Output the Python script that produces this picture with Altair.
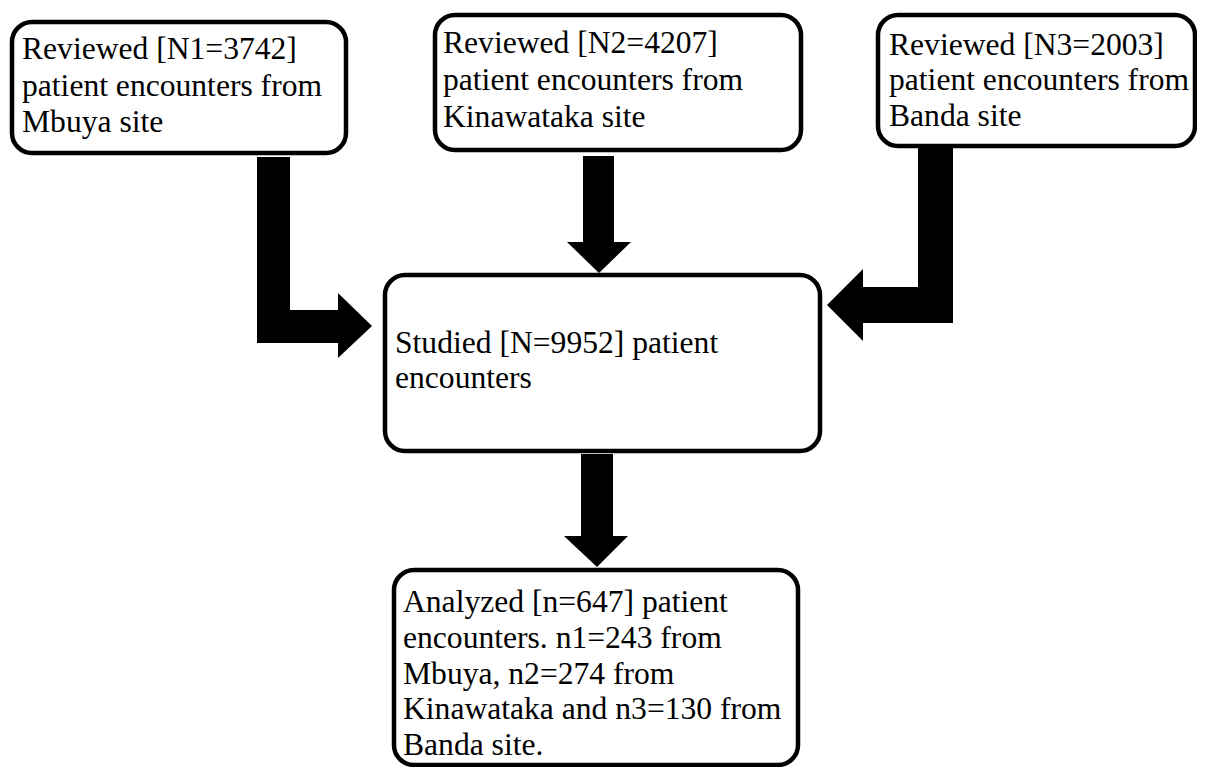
import altair as alt
import pandas as pd

# ---- content (text of each flowchart box, one list per line) ----
box_names = ["Mbuya", "Kinawataka", "Banda", "Studied", "Analyzed"]
box_lines = [
    ["Reviewed [N1=3742]", "patient encounters from", "Mbuya site"],
    ["Reviewed [N2=4207]", "patient encounters from", "Kinawataka site"],
    ["Reviewed [N3=2003]", "patient encounters from", "Banda site"],
    ["Studied [N=9952] patient", "encounters"],
    ["Analyzed [n=647] patient", "encounters. n1=243 from", "Mbuya, n2=274 from",
     "Kinawataka and n3=130 from", "Banda site."],
]

# ---- layout (pixel positions on the page) ----
box_x0 = [12, 435, 878, 385, 394]
box_x1 = [346, 801, 1195, 820, 798]
box_y0 = [22, 15, 15, 275, 570]
box_y1 = [153, 150, 146, 451, 765]
text_x = [22, 443, 889, 395, 403]
text_y0 = [59.3, 53.3, 54.5, 353.3, 612]
line_gap = [36.2, 37.0, 35.8, 35.0, 35.8]

# arrow shafts: x0, x1, y0, y1
shaft_x0 = [257, 257, 583, 918, 863, 581]
shaft_x1 = [290, 338, 614, 953, 953, 613]
shaft_y0 = [157, 310, 156, 148, 287, 454]
shaft_y1 = [343, 343, 243, 323, 323, 537]

# down arrow heads: base y, left x, right x, tip x, tip y
down_base_y = [242, 536]
down_left = [567, 564]
down_right = [631, 628]
down_tip_x = [599, 597]
down_tip_y = [273, 567]

# sideways arrow heads: base x, top y, bottom y, tip x, tip y
side_base_x = [338, 863]
side_top = [293, 269]
side_bot = [358, 341]
side_tip_x = [372, 827]
side_tip_y = [326, 305]

W, H = 1189, 759
xs = alt.Scale(domain=[8, 8 + W], nice=False, zero=False)
ys = alt.Scale(domain=[8, 8 + H], nice=False, zero=False, reverse=True)

boxes = pd.DataFrame({"name": box_names, "x0": box_x0, "x1": box_x1,
                      "y0": box_y0, "y1": box_y1})

rows = []
for i, lines in enumerate(box_lines):
    for j, t in enumerate(lines):
        rows.append({"name": box_names[i], "line": j, "text": t,
                     "x": text_x[i], "y": text_y0[i] + j * line_gap[i]})
texts = pd.DataFrame(rows)

shafts = pd.DataFrame({"x0": shaft_x0, "x1": shaft_x1, "y0": shaft_y0, "y1": shaft_y1})

drows = []
for k in range(len(down_base_y)):
    drows += [
        {"id": k, "x": down_left[k], "y": down_base_y[k], "y2": down_base_y[k]},
        {"id": k, "x": down_tip_x[k], "y": down_base_y[k], "y2": down_tip_y[k]},
        {"id": k, "x": down_right[k], "y": down_base_y[k], "y2": down_base_y[k]},
    ]
downs = pd.DataFrame(drows)

srows = []
for k in range(len(side_base_x)):
    srows += [
        {"id": k, "y": side_top[k], "x": side_base_x[k], "x2": side_base_x[k]},
        {"id": k, "y": side_tip_y[k], "x": side_base_x[k], "x2": side_tip_x[k]},
        {"id": k, "y": side_bot[k], "x": side_base_x[k], "x2": side_base_x[k]},
    ]
sides = pd.DataFrame(srows)

box_layer = alt.Chart(boxes).mark_rect(
    fill="white", stroke="black", strokeWidth=4.5, cornerRadius=20
).encode(
    x=alt.X("x0:Q", scale=xs, axis=None),
    x2="x1:Q",
    y=alt.Y("y0:Q", scale=ys, axis=None),
    y2="y1:Q",
)

shaft_layer = alt.Chart(shafts).mark_rect(fill="black", strokeWidth=0).encode(
    x=alt.X("x0:Q", scale=xs, axis=None),
    x2="x1:Q",
    y=alt.Y("y0:Q", scale=ys, axis=None),
    y2="y1:Q",
)

down_layer = alt.Chart(downs).mark_area(
    color="black", orient="vertical", interpolate="linear"
).encode(
    x=alt.X("x:Q", scale=xs, axis=None),
    y=alt.Y("y:Q", scale=ys, axis=None),
    y2="y2:Q",
    detail="id:N",
)

side_layer = alt.Chart(sides).mark_area(
    color="black", orient="horizontal", interpolate="linear"
).encode(
    y=alt.Y("y:Q", scale=ys, axis=None),
    x=alt.X("x:Q", scale=xs, axis=None),
    x2="x2:Q",
    detail="id:N",
)

text_layer = alt.Chart(texts).mark_text(
    align="left", baseline="alphabetic", font="Liberation Serif",
    fontSize=31.6, color="black"
).encode(
    x=alt.X("x:Q", scale=xs, axis=None),
    y=alt.Y("y:Q", scale=ys, axis=None),
    text="text:N",
)

chart = alt.layer(box_layer, shaft_layer, down_layer, side_layer, text_layer).properties(
    width=W, height=H, padding=0, autosize=alt.AutoSizeParams(type="none"),
    background="white",
).configure_view(stroke=None)

chart.save("out.html", embed_options={"renderer": "svg", "actions": False})
